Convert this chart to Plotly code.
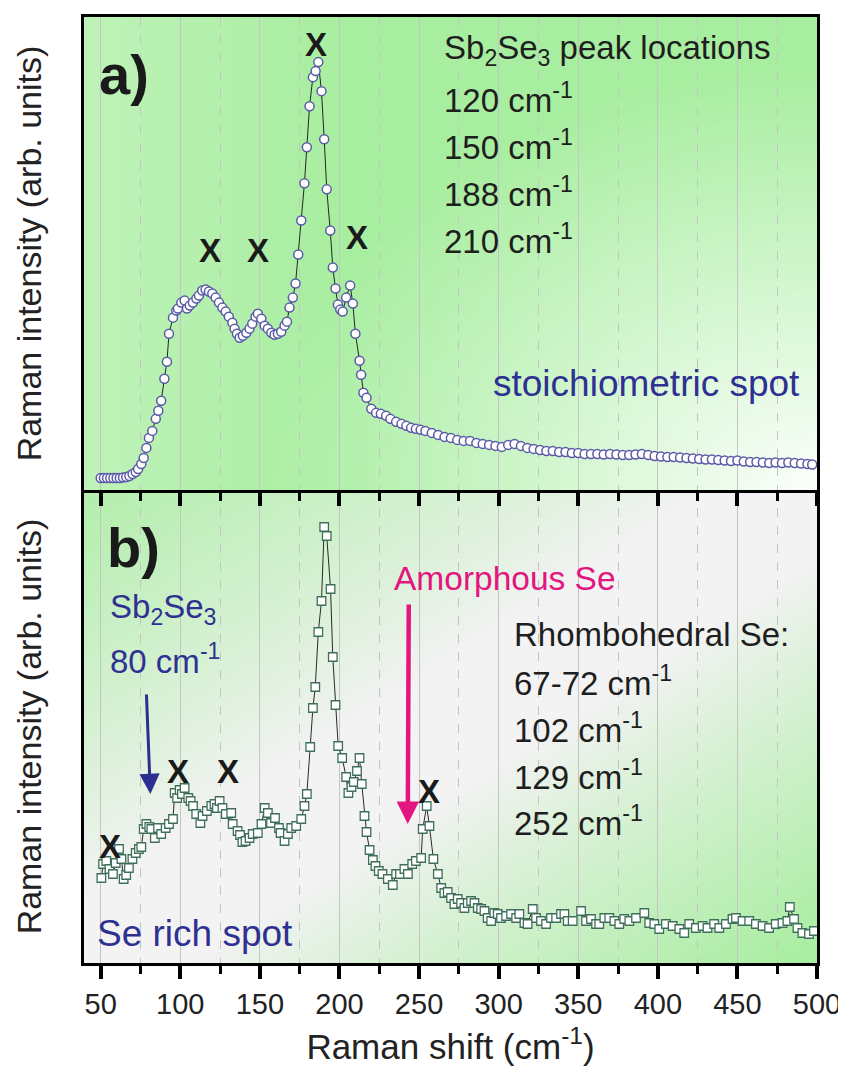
import zlib, struct, base64
import numpy as np
import plotly.graph_objects as go

# ---------------- data ----------------
x_a = [50, 52, 54, 56, 58, 60, 62, 64, 66, 68, 70, 72, 73.5, 75.5, 77, 78.7, 80.3, 82.4, 84.6, 86.2,
       88, 90, 91.6, 92.9, 95.4, 97.5, 98.5, 100.6, 102.7, 104.2, 105.9, 107.9, 110.1, 111.7, 113.8,
       115.9, 118, 120.1, 122.2, 124.3, 126.4, 128.5, 130.5, 132.7, 134.1, 135.6, 137.3, 139.3, 141.5,
       143.5, 145.2, 147.3, 148.7, 150.9, 153, 155, 157.2, 159.2, 161.3, 163.4, 165.5, 167, 168.6,
       170.7, 172.4, 174.1, 176, 178, 179.5, 181.2, 183.3, 185, 186.7, 188.7, 190.4, 192, 194.2,
       195.8, 197.5, 199, 200.5, 202, 204.2, 206.7, 208.4, 210, 212.6, 213.6, 215, 217, 220, 223,
       226, 229.3, 232, 235.6, 239, 242, 245, 248, 251, 254, 258, 262, 266, 270, 274, 278, 282, 286,
       290, 294, 298, 302, 306, 310, 314, 318, 322, 326, 330, 334, 338, 342, 346, 350, 354, 358, 362,
       366, 370, 374, 378, 382, 386, 390, 394, 398, 402, 406, 410, 414, 418, 422, 426, 430, 434, 438,
       442, 446, 450, 454, 458, 462, 466, 470, 474, 478, 482, 486, 490, 494, 497, 501]
h_a = [12, 12, 12, 12, 12, 12, 12, 12.5, 13, 14, 16, 18, 21, 26, 32, 42, 52, 59, 71, 79,
       89, 111, 128, 156, 172, 179, 181, 187, 189, 181, 184, 187, 191, 194, 199,
       200, 198, 196, 192, 187, 182, 178, 173, 167, 161, 156, 152, 154, 157,
       161, 166, 173, 176, 171, 164, 161, 157, 155, 156, 158, 164, 168, 182,
       192, 206, 235, 269, 306, 342, 383, 412, 418, 427, 398, 350, 300, 259,
       222, 201, 185, 180, 178, 192, 204, 186, 156, 129, 115, 97, 92, 81, 77,
       76, 74, 71, 68, 66, 64, 62, 61, 60, 59, 57, 55, 53, 52, 50, 49, 49, 47,
       46, 45, 44, 43, 45, 46, 44, 42, 41, 40, 39, 39, 38, 38, 37, 37, 36, 36, 36,
       35.5, 36, 35.5, 35, 35, 35.5, 36, 35, 34, 33.5, 33, 33, 32.5, 32, 31.5, 31, 30.5, 30.5, 30,
       29.5, 29, 29.5, 28.5, 28, 28, 27.5, 27, 27.5, 27, 27.5, 27, 26.5, 26, 25.5, 24.5]

x_b = [50.4, 51.5, 53.5, 55.5, 57.7, 59.4, 61.5, 63, 64.4, 66, 67.7, 69.9, 72, 74, 75.5, 77, 78.7,
       80.5, 81.8, 84, 86, 88, 90.8, 92.9, 95.4, 96.5, 98, 99.6, 101, 102.7, 105, 106.5, 108, 110,
       112.6, 114, 116.7, 119.5, 121.5, 123, 124.7, 126.5, 128.6, 132, 132.9, 136, 137.5, 139, 141,
       143.5, 145.5, 148.7, 151, 153, 155, 157, 159.5, 162, 163, 165.5, 167.6, 169.7, 172.8, 176,
       178, 179.5, 181.6, 183.3, 184.8, 186.7, 188.7, 190.4, 192, 194.4, 195.8, 197.5, 199.2, 201.7,
       204.2, 205.6, 207.5, 209, 211, 212.6, 214, 215.7, 217, 218.9, 221, 222.6, 224.7, 227, 230.4,
       233.5, 235.6, 238, 240.8, 243, 245.7, 248, 251.3, 252.3, 254.8, 256.5, 259, 261.8,
       263.9, 265.9, 268, 270.1, 272.2, 274.3, 276.4, 278.5, 280.6, 282.7, 284.8, 286.9, 289, 291.1,
       293.1, 295.3, 297.3, 299.4, 301.5, 304.7, 307.8, 311, 313, 316.2, 318.2, 321.4, 323.5, 326.6,
       329.8, 332.9, 336.1, 339.2, 341.3, 343.4, 346.5, 351.8, 354.9, 358, 361.2, 363.2, 366.4, 369.5,
       372.7, 375.8, 378.9, 382.1, 386.3, 391.5, 394.6, 397.8, 400.9, 405.1, 409.3, 413.5, 416.6,
       419.7, 423.9, 428.1, 431.2, 435.4, 438.6, 442.8, 446.9, 449.1, 453.2, 457.4, 461.6, 465.8,
       469.9, 474.1, 478.3, 481.4, 482.9, 485.6, 487.7, 490.8, 495, 498.1, 501.5]
h_b = [85, 99, 102, 94, 89, 100, 114, 104, 84, 88, 95, 104, 110, 114, 116, 134, 139,
       136, 134, 125, 135, 129, 135, 139, 144, 170, 165, 173, 169, 175, 165, 162, 157, 149,
       140, 147, 152, 157, 159, 155, 162, 155, 149, 150, 139, 132, 128, 121, 122,
       125, 129, 130, 139, 155, 150, 140, 145, 135, 130, 122, 129, 135, 137, 144,
       157, 169, 216, 255, 276, 331, 362, 436, 427, 374, 306, 258, 217, 205,
       186, 170, 176, 181, 192, 205, 179, 147, 131, 113, 103, 97, 92, 89, 84,
       78, 89, 89, 94, 89, 99, 102, 105, 134, 157, 137, 104, 89,
       75, 70, 71, 65, 59, 64, 60, 55, 60, 62, 60, 55, 54, 52,
       45, 42, 50, 49, 45, 47, 49, 45, 49, 40, 39, 54, 45, 42,
       39, 45, 45, 49, 49, 42, 42, 52, 42, 44, 39, 39, 45, 45,
       42, 39, 44, 42, 45, 50, 40, 39, 34, 39, 37, 34, 30,
       39, 35, 37, 35, 39, 35, 39, 44, 45, 42, 42, 39, 37,
       35, 39, 40, 42, 56, 44, 35, 30, 29, 32, 30]

tick_vals = [50, 100, 150, 200, 250, 300, 350, 400, 450, 500]
tick_text = [str(v) for v in tick_vals]

# peak markers ("X") positions
xmarks_a_x = [185, 118.4, 148.6, 210.7]
xmarks_a_y = [445, 239, 239, 252]
xmarks_b_x = [55.6, 98.3, 129.7, 256.5]
xmarks_b_y = [117, 192, 192, 172]

lines_a = ["Sb<sub>2</sub>Se<sub>3</sub> peak locations", "120 cm<sup>-1</sup>", "150 cm<sup>-1</sup>",
           "188 cm<sup>-1</sup>", "210 cm<sup>-1</sup>"]
lines_a_y = [439, 391, 344, 297, 250]
lines_b = ["Rhombohedral Se:", "67-72 cm<sup>-1</sup>", "102 cm<sup>-1</sup>", "129 cm<sup>-1</sup>",
           "252 cm<sup>-1</sup>"]
lines_b_y = [329, 282, 235, 188, 142]

FONT = "Liberation Sans, Arial, Helvetica, sans-serif"


# ---------------- gradient backgrounds ----------------
def png_uri(arr):
    h, w, _ = arr.shape
    raw = b"".join(b"\x00" + arr[r].tobytes() for r in range(h))

    def chunk(t, d):
        return struct.pack(">I", len(d)) + t + d + struct.pack(">I", zlib.crc32(t + d) & 0xFFFFFFFF)

    png = (b"\x89PNG\r\n\x1a\n" + chunk(b"IHDR", struct.pack(">IIBBBBB", w, h, 8, 2, 0, 0, 0))
           + chunk(b"IDAT", zlib.compress(raw, 9)) + chunk(b"IEND", b""))
    return "data:image/png;base64," + base64.b64encode(png).decode()


W, H = 240, 160
u = np.linspace(0, 1, W)[None, :]
v = np.linspace(0, 1, H)[:, None]
green = np.array([168, 238, 160], float)
white = np.array([252, 255, 252], float)
gray = np.array([243, 243, 243], float)

d = np.sqrt(((1 - u) / 0.75) ** 2 + ((1 - v) / 0.9) ** 2)
fa = np.clip(d, 0, 1) * (0.72 + 0.28 * np.clip(u / 0.35, 0, 1))
img_a = white * (1 - fa[..., None]) + green * fa[..., None]

s = (u + v) / 2
fb = np.clip((np.abs(s - 0.5) * 2 - 0.15) / 0.85, 0, 1) ** 0.9
fb = fb * np.where(s < 0.5, 0.85, 1.0)
img_b = gray * (1 - fb[..., None]) + green * fb[..., None]

uri_a = png_uri(np.clip(img_a, 0, 255).astype(np.uint8))
uri_b = png_uri(np.clip(img_b, 0, 255).astype(np.uint8))

# ---------------- figure ----------------
fig = go.Figure()
fig.add_trace(go.Scatter(x=x_a, y=h_a, mode="lines+markers", xaxis="x2", yaxis="y2", cliponaxis=False,
                         line=dict(color="#1f2a1f", width=1),
                         marker=dict(symbol="circle", size=9, color="white",
                                     line=dict(color="#5a5aa8", width=1.5)),
                         showlegend=False))
fig.add_trace(go.Scatter(x=x_b, y=h_b, mode="lines+markers", xaxis="x", yaxis="y", cliponaxis=False,
                         line=dict(color="#2a2a2a", width=1),
                         marker=dict(symbol="square", size=8.5, color="white",
                                     line=dict(color="#3f6f5a", width=1.3)),
                         showlegend=False))

xrange = [39.5, 500]
common_x = dict(range=xrange, showline=True, linewidth=3, linecolor="black", mirror=True,
                showgrid=True, gridcolor="#c4c4c4", gridwidth=1, automargin=False,
                tickvals=tick_vals, ticks="outside", ticklen=13, tickwidth=3.5, tickcolor="black",
                minor=dict(dtick=25, tick0=25, ticks="outside", ticklen=8, tickwidth=2.5, tickcolor="black",
                           showgrid=True, gridcolor="#c4c4c4", griddash="dash", gridwidth=1),
                zeroline=False)
ycommon = dict(showline=True, linewidth=3, linecolor="black", mirror=True, automargin=False,
               showticklabels=False, ticks="", showgrid=False, zeroline=False)
# the page body has an 8px margin, so the figure is 8px smaller and margins are shifted accordingly
fig.update_layout(
    width=838, height=1066,
    margin=dict(l=76, r=29, t=9, b=111),
    paper_bgcolor="white", plot_bgcolor="white",
    font=dict(family=FONT, color="#222222"),
    xaxis=dict(common_x, anchor="y", ticktext=tick_text, showticklabels=True,
               tickfont=dict(size=29, family=FONT, color="#222222"),
               title=dict(text="Raman shift (cm<sup>-1</sup>)", font=dict(size=35, family=FONT, color="#222222"),
                          standoff=16)),
    xaxis2=dict(common_x, anchor="y2", showticklabels=False, matches="x"),
    yaxis=dict(ycommon, domain=[0, 0.5], range=[0, 473],
               title=dict(text="Raman intensity (arb. units)", font=dict(size=34, family=FONT, color="#222222"),
                          standoff=30)),
    yaxis2=dict(ycommon, domain=[0.5, 1], range=[0, 472],
                title=dict(text="Raman intensity (arb. units)", font=dict(size=34, family=FONT, color="#222222"),
                           standoff=30)),
    images=[
        dict(source=uri_a, xref="x2 domain", yref="y2 domain", x=0, y=1, sizex=1, sizey=1,
             xanchor="left", yanchor="top", sizing="stretch", layer="below"),
        dict(source=uri_b, xref="x domain", yref="y domain", x=0, y=1, sizex=1, sizey=1,
             xanchor="left", yanchor="top", sizing="stretch", layer="below"),
    ],
)

ann = []
# panel labels
ann.append(dict(x=0.018, y=0.95, xref="x2 domain", yref="y2 domain", text="<b>a)</b>", showarrow=False,
                xanchor="left", yanchor="top", font=dict(size=56, family=FONT, color="#1a1a1a")))
ann.append(dict(x=0.029, y=0.95, xref="x domain", yref="y domain", text="<b>b)</b>", showarrow=False,
                xanchor="left", yanchor="top", font=dict(size=56, family=FONT, color="#1a1a1a")))
# X markers
for xx, yy in zip(xmarks_a_x, xmarks_a_y):
    ann.append(dict(x=xx, y=yy, xref="x2", yref="y2", text="<b>X</b>", showarrow=False,
                    font=dict(size=33, family=FONT, color="#1a1a1a")))
for xx, yy in zip(xmarks_b_x, xmarks_b_y):
    ann.append(dict(x=xx, y=yy, xref="x", yref="y", text="<b>X</b>", showarrow=False,
                    font=dict(size=33, family=FONT, color="#1a1a1a")))
# text blocks
for t, yy in zip(lines_a, lines_a_y):
    ann.append(dict(x=264.7, y=yy, xref="x2", yref="y2", text=t, showarrow=False, xanchor="left",
                    yanchor="middle", font=dict(size=33, family=FONT, color="#1e1e1e")))
for t, yy in zip(lines_b, lines_b_y):
    ann.append(dict(x=308.6, y=yy, xref="x", yref="y", text=t, showarrow=False, xanchor="left",
                    yanchor="middle", font=dict(size=33, family=FONT, color="#1e1e1e")))
ann.append(dict(x=295.4, y=106, xref="x2", yref="y2", text="stoichiometric spot", showarrow=False,
                xanchor="left", yanchor="middle", font=dict(size=37, family=FONT, color="#2e3192")))
ann.append(dict(x=46.2, y=30, xref="x", yref="y", text="Se rich spot", showarrow=False,
                xanchor="left", yanchor="middle", font=dict(size=37, family=FONT, color="#2e3192")))
ann.append(dict(x=232.7, y=385, xref="x", yref="y", text="Amorphous Se", showarrow=False,
                xanchor="left", yanchor="middle", font=dict(size=33.5, family=FONT, color="#e3157f")))
ann.append(dict(x=54.4, y=354, xref="x", yref="y", text="Sb<sub>2</sub>Se<sub>3</sub>", showarrow=False,
                xanchor="left", yanchor="middle", font=dict(size=33, family=FONT, color="#2e3192")))
ann.append(dict(x=54.4, y=304, xref="x", yref="y", text="80 cm<sup>-1</sup>", showarrow=False,
                xanchor="left", yanchor="middle", font=dict(size=33, family=FONT, color="#2e3192")))
# arrows
ann.append(dict(x=81.2, y=169, xref="x", yref="y", text="", showarrow=True, ax=-4, ay=-101,
                arrowhead=2, arrowwidth=3, arrowsize=1.35, arrowcolor="#2b2f8f", standoff=0))
ann.append(dict(x=242.9, y=139, xref="x", yref="y", text="", showarrow=True, ax=1, ay=-221,
                arrowhead=2, arrowwidth=4.5, arrowsize=1.0, arrowcolor="#e3157f", standoff=0))
fig.update_layout(annotations=ann)

fig.write_html("out.html")
